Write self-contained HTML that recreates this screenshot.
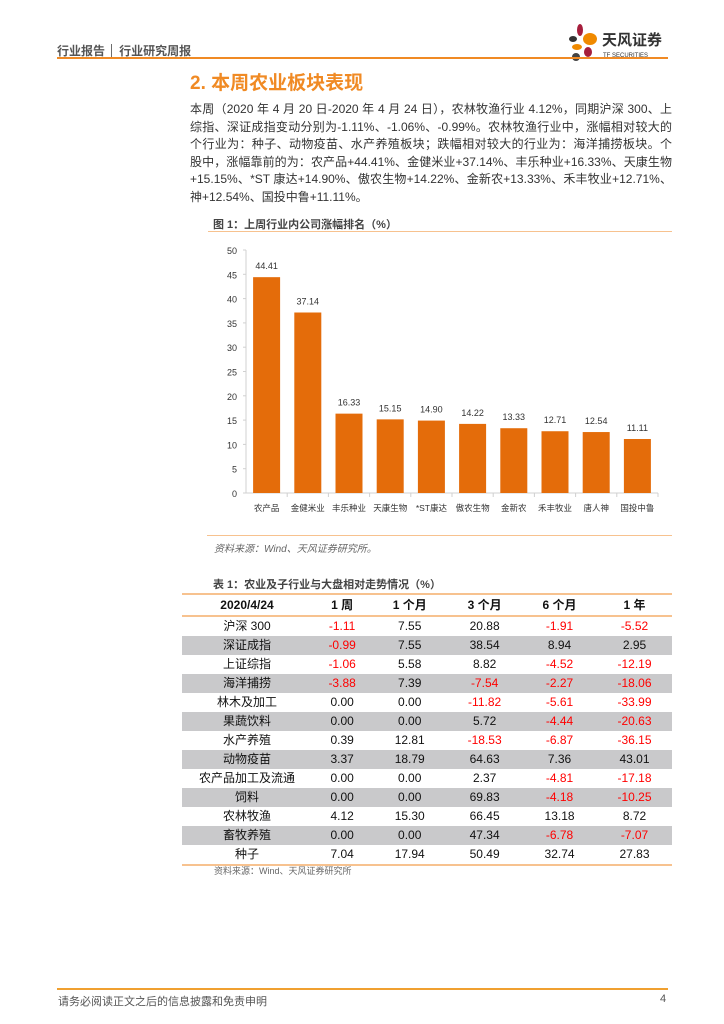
<!DOCTYPE html>
<html><head><meta charset="utf-8">
<style>
body{margin:0;width:724px;height:1024px;background:#fff;position:relative;font-family:"Liberation Sans","Noto Sans CJK SC",sans-serif;overflow:hidden}
.abs{position:absolute}
.para{left:190px;top:101px;width:482px;font-size:12px;line-height:17.6px;color:#333}
.para div{text-align:justify;text-align-last:justify;height:17.6px;overflow:hidden}
.para div.last{text-align-last:left}
table{border-collapse:collapse;position:absolute;left:182px;top:593px;width:490px;font-size:12px;color:#111}
td,th{height:19px;padding:0;text-align:center;line-height:19px}
th{font-weight:bold;height:20px}
thead tr{border-top:2px solid #f7c28f;border-bottom:2px solid #f7c28f}
tbody tr:nth-child(even){background:#c9c9cb}
tbody tr:last-child{border-bottom:2px solid #f7c28f}
.n{color:#f00}
</style></head><body>
<div class="abs" style="left:57px;top:42px;font-size:12px;font-weight:bold;color:#555">行业报告 │ 行业研究周报</div>
<svg class="abs" style="left:568px;top:22px" width="100" height="40">
<ellipse cx="12" cy="8" rx="3" ry="6" fill="#a61e3c"/><ellipse cx="5" cy="17" rx="4" ry="3" fill="#333"/><ellipse cx="22" cy="17" rx="7" ry="6" fill="#f08a00"/><ellipse cx="9" cy="25" rx="5" ry="3" fill="#f08a00"/><ellipse cx="20" cy="30" rx="4" ry="5" fill="#a61e3c"/><ellipse cx="8" cy="35" rx="4" ry="4" fill="#444"/>
<text x="34" y="23" font-size="15" font-weight="bold" fill="#333" font-family="Liberation Sans,Noto Sans CJK SC,sans-serif">天风证券</text>
<text x="35" y="35" font-size="6" fill="#333" font-family="Liberation Sans,sans-serif">TF SECURITIES</text></svg>
<div class="abs" style="left:57px;top:57px;width:611px;height:2px;background:#f08a24"></div>
<div class="abs" style="left:190px;top:68px;font-size:19px;font-weight:bold;color:#f08a24">2. 本周农业板块表现</div>
<div class="abs para">
<div>本周（2020 年 4 月 20 日-2020 年 4 月 24 日），农林牧渔行业 4.12%，同期沪深 300、上证</div>
<div>综指、深证成指变动分别为-1.11%、-1.06%、-0.99%。农林牧渔行业中，涨幅相对较大的两</div>
<div>个行业为：种子、动物疫苗、水产养殖板块；跌幅相对较大的行业为：海洋捕捞板块。个</div>
<div>股中，涨幅靠前的为：农产品+44.41%、金健米业+37.14%、丰乐种业+16.33%、天康生物</div>
<div>+15.15%、*ST 康达+14.90%、傲农生物+14.22%、金新农+13.33%、禾丰牧业+12.71%、唐人</div>
<div class="last">神+12.54%、国投中鲁+11.11%。</div>
</div>
<div class="abs" style="left:213px;top:216px;font-size:11px;font-weight:bold;color:#444">图 1：上周行业内公司涨幅排名（%）</div>
<div class="abs" style="left:208px;top:231px;width:464px;height:1px;background:#f7c28f"></div>
<svg class="abs" id="chart" style="left:0;top:0" width="724" height="540"></svg>
<div class="abs" style="left:207px;top:535px;width:465px;height:1px;background:#f7c28f"></div>
<div class="abs" style="left:214px;top:540px;font-size:10px;font-style:italic;color:#666">资料来源：Wind、天风证券研究所。</div>
<div class="abs" style="left:213px;top:576px;font-size:11px;font-weight:bold;color:#444">表 1：农业及子行业与大盘相对走势情况（%）</div>
<table>
<thead><tr><th style="width:130px">2020/4/24</th><th>1 周</th><th>1 个月</th><th>3 个月</th><th>6 个月</th><th>1 年</th></tr></thead>
<tbody>
<tr><td>沪深 300</td><td class="n">-1.11</td><td>7.55</td><td>20.88</td><td class="n">-1.91</td><td class="n">-5.52</td></tr>
<tr><td>深证成指</td><td class="n">-0.99</td><td>7.55</td><td>38.54</td><td>8.94</td><td>2.95</td></tr>
<tr><td>上证综指</td><td class="n">-1.06</td><td>5.58</td><td>8.82</td><td class="n">-4.52</td><td class="n">-12.19</td></tr>
<tr><td>海洋捕捞</td><td class="n">-3.88</td><td>7.39</td><td class="n">-7.54</td><td class="n">-2.27</td><td class="n">-18.06</td></tr>
<tr><td>林木及加工</td><td>0.00</td><td>0.00</td><td class="n">-11.82</td><td class="n">-5.61</td><td class="n">-33.99</td></tr>
<tr><td>果蔬饮料</td><td>0.00</td><td>0.00</td><td>5.72</td><td class="n">-4.44</td><td class="n">-20.63</td></tr>
<tr><td>水产养殖</td><td>0.39</td><td>12.81</td><td class="n">-18.53</td><td class="n">-6.87</td><td class="n">-36.15</td></tr>
<tr><td>动物疫苗</td><td>3.37</td><td>18.79</td><td>64.63</td><td>7.36</td><td>43.01</td></tr>
<tr><td>农产品加工及流通</td><td>0.00</td><td>0.00</td><td>2.37</td><td class="n">-4.81</td><td class="n">-17.18</td></tr>
<tr><td>饲料</td><td>0.00</td><td>0.00</td><td>69.83</td><td class="n">-4.18</td><td class="n">-10.25</td></tr>
<tr><td>农林牧渔</td><td>4.12</td><td>15.30</td><td>66.45</td><td>13.18</td><td>8.72</td></tr>
<tr><td>畜牧养殖</td><td>0.00</td><td>0.00</td><td>47.34</td><td class="n">-6.78</td><td class="n">-7.07</td></tr>
<tr><td>种子</td><td>7.04</td><td>17.94</td><td>50.49</td><td>32.74</td><td>27.83</td></tr>
</tbody></table>
<div class="abs" style="left:214px;top:864px;font-size:9px;color:#666">资料来源：Wind、天风证券研究所</div>
<div class="abs" style="left:57px;top:988px;width:611px;height:2px;background:#f0a030"></div>
<div class="abs" style="left:58px;top:993px;font-size:11px;color:#555">请务必阅读正文之后的信息披露和免责申明</div>
<div class="abs" style="left:660px;top:993px;font-size:11px;color:#555">4</div>
<script>
const categories=["农产品","金健米业","丰乐种业","天康生物","*ST康达","傲农生物","金新农","禾丰牧业","唐人神","国投中鲁"];
const values=[44.41,37.14,16.33,15.15,14.90,14.22,13.33,12.71,12.54,11.11];
const yTicks=[0,5,10,15,20,25,30,35,40,45,50];
const svg=document.getElementById('chart');const NS='http://www.w3.org/2000/svg';
const x0=246,x1=658,yBase=493,yTop=250;
const y=v=>yBase-(v/50)*(yBase-yTop);
const step=(x1-x0)/categories.length;
const xc=i=>x0+step*(i+0.5);
function mk(t,a){const e=document.createElementNS(NS,t);for(const k in a)e.setAttribute(k,a[k]);svg.appendChild(e);return e;}
const ax=mk('line',{x1:x0,y1:yTop,x2:x0,y2:yBase,stroke:'#d0d0d0'});


const bx=mk('line',{x1:x0,y1:yBase,x2:x1,y2:yBase,stroke:'#d0d0d0'});


yTicks.forEach(v=>{const t=mk('text',{x:x0-9,y:y(v)+4,'font-size':9,'text-anchor':'end',fill:'#333'});t.textContent=v;


mk('line',{x1:x0-3,y1:y(v),x2:x0,y2:y(v),stroke:'#d0d0d0'});});
categories.forEach((c,i)=>{
const r=mk('rect',{x:xc(i)-13.5,y:y(values[i]),width:27,height:yBase-y(values[i]),fill:'#e46c0a'});


const l=mk('text',{x:xc(i),y:y(values[i])-8,'font-size':9,'text-anchor':'middle',fill:'#333'});l.textContent=values[i].toFixed(2);


const cl=mk('text',{x:xc(i),y:511,'font-size':8.5,'text-anchor':'middle',fill:'#333'});cl.textContent=c;


mk('line',{x1:x0+step*(i+1),y1:yBase,x2:x0+step*(i+1),y2:yBase+4,stroke:'#d0d0d0'});
});
</script>
</body></html>
